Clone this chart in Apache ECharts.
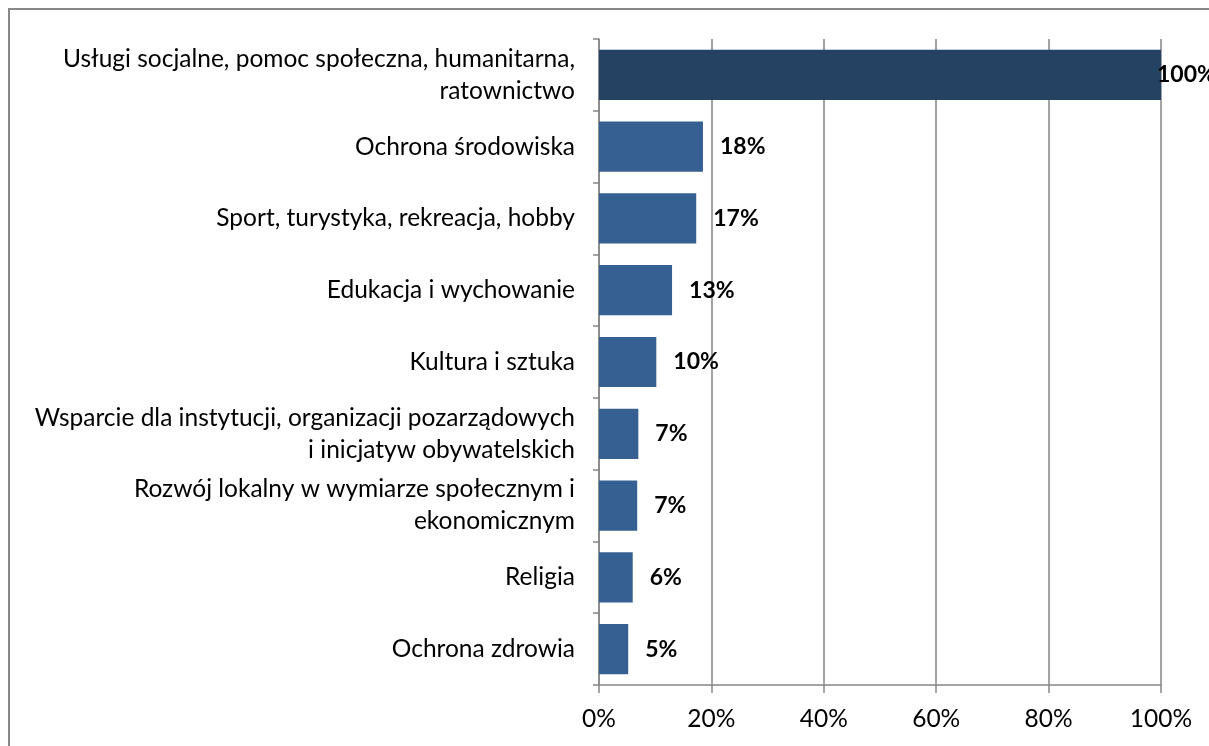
<!DOCTYPE html>
<html>
<head>
<meta charset="utf-8">
<script src="https://cdn.jsdelivr.net/npm/echarts@6/dist/echarts.min.js"></script>
<style>
  html, body { margin: 0; padding: 0; background: #fff; }
  #chart { width: 1209px; height: 746px; }
</style>
</head>
<body>
<div id="chart"></div>
<script>
const categories = [
    'Usługi socjalne, pomoc społeczna, humanitarna,\nratownictwo',
    'Ochrona środowiska',
    'Sport, turystyka, rekreacja, hobby',
    'Edukacja i wychowanie',
    'Kultura i sztuka',
    'Wsparcie dla instytucji, organizacji pozarządowych\ni inicjatyw obywatelskich',
    'Rozwój lokalny w wymiarze społecznym i\nekonomicznym',
    'Religia',
    'Ochrona zdrowia'
];
const values = [100, 18.5, 17.3, 13, 10.2, 7, 6.8, 6, 5.2];
const valueLabels = ['100%', '18%', '17%', '13%', '10%', '7%', '7%', '6%', '5%'];
const xTicks = [0, 20, 40, 60, 80, 100];

const FONT = 'Lato, "Open Sans", sans-serif';
const chart = echarts.init(document.getElementById('chart'), null, { renderer: 'canvas' });

const option = {
    animation: false,
    backgroundColor: '#fff',
    graphic: [{
        type: 'rect',
        shape: { x: 9, y: 9, width: 1300, height: 800 },
        style: { fill: 'none', stroke: '#888', lineWidth: 2 },
        silent: true
    }],
    grid: { left: 599, right: 48, top: 39, bottom: 61 },
    xAxis: {
        type: 'value',
        min: 0,
        max: 100,
        interval: 20,
        axisLine: { show: true, lineStyle: { color: '#868686', width: 1.5 } },
        axisTick: { show: true, length: 8, lineStyle: { color: '#868686', width: 1.5 } },
        splitLine: { show: true, lineStyle: { color: '#868686', width: 1.5 } },
        axisLabel: {
            formatter: v => xTicks.includes(v) ? v + '%' : '',
            color: '#000',
            fontFamily: FONT,
            fontSize: 24.5,
            margin: 22
        }
    },
    yAxis: {
        type: 'category',
        inverse: true,
        data: categories,
        axisLine: { show: true, lineStyle: { color: '#868686', width: 1.5 } },
        axisTick: { show: true, length: 6, lineStyle: { color: '#868686', width: 1.5 } },
        axisLabel: {
            color: '#000',
            fontFamily: FONT,
            fontSize: 24.5,
            lineHeight: 32,
            margin: 24,
            align: 'right'
        }
    },
    series: [{
        type: 'bar',
        barCategoryGap: '30%',
        data: values.map((v, i) => ({
            value: v,
            itemStyle: { color: i === 0 ? '#264263' : '#366092' },
            label: i === 0 ? { distance: -4 } : {}
        })),
        label: {
            show: true,
            position: 'right',
            distance: 17,
            formatter: p => valueLabels[p.dataIndex],
            color: '#000',
            fontFamily: FONT,
            fontWeight: 'bold',
            fontSize: 23
        }
    }]
};
chart.setOption(option);
</script>
</body>
</html>
